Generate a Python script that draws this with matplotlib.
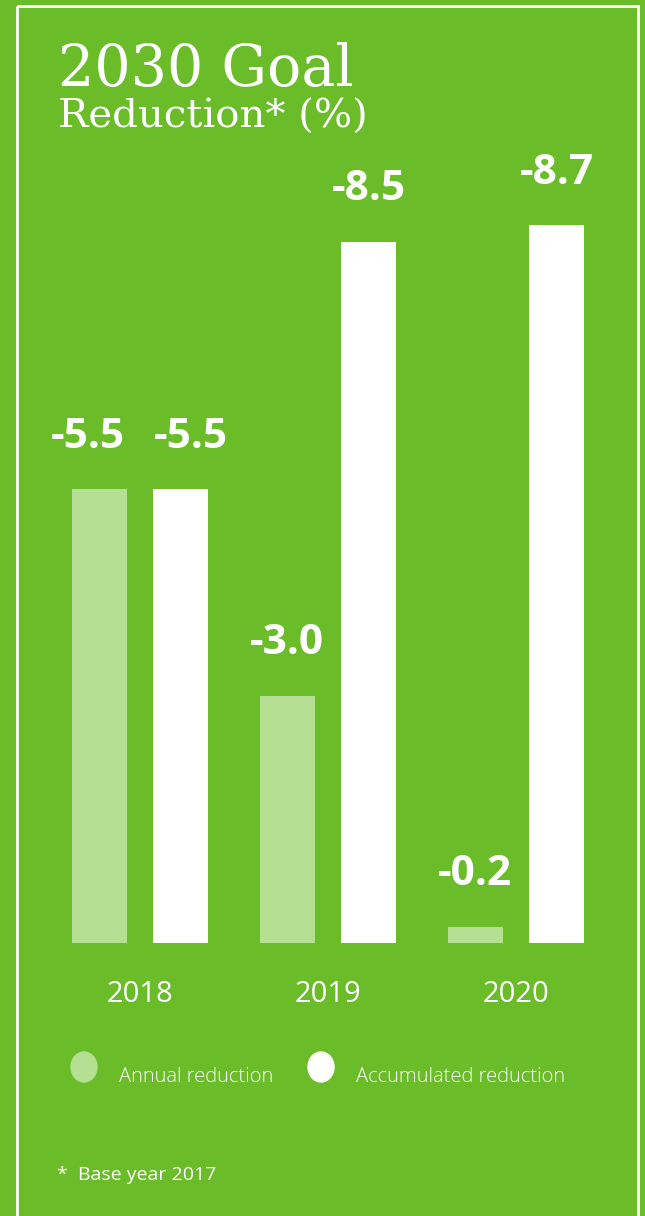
import matplotlib
matplotlib.use("Agg")
import matplotlib.pyplot as plt
from matplotlib.patches import Rectangle, Ellipse
import numpy as np

years = ["2018", "2019", "2020"]
annual = [-5.5, -3.0, -0.2]
accumulated = [-5.5, -8.5, -8.7]
series_names = ["Annual reduction", "Accumulated reduction"]

GREEN = "#6abd29"
LIGHT = "#b5df92"
WHITE = "#ffffff"

W, H = 645, 1216
fig = plt.figure(figsize=(W / 100, H / 100), dpi=100, facecolor=GREEN)

# overlay in pixel units for frame, titles and legend
deco = fig.add_axes([0, 0, 1, 1])
deco.set_xlim(0, W)
deco.set_ylim(H, 0)
deco.axis("off")
deco.patch.set_alpha(0)
deco.add_patch(Rectangle((17, 6), 621, 1260, fill=False, ec=WHITE, lw=2))

deco.text(58, 70, "2030 Goal", color=WHITE, fontsize=41, family="DejaVu Serif",
          va="center", ha="left")
deco.text(58, 117, "Reduction* (%)", color=WHITE, fontsize=29, family="DejaVu Serif",
          va="center", ha="left")

# bar area: baseline at y=943 px, 82.5 px per percentage point, 188 px between groups
base_px, top_px = 943, 150
unit = 82.5
ax = fig.add_axes([0, (H - base_px) / H, 1, (base_px - top_px) / H])
ax.set_facecolor("none")
ax.set_xlim(-140 / 188, (W - 140) / 188)
ax.set_ylim(0, (base_px - top_px) / unit)
ax.axis("off")

x = np.arange(len(years))
bw = 55 / 188
off = 40.75 / 188
vals_a = [abs(v) for v in annual]
vals_b = [abs(v) for v in accumulated]
ax.bar(x - off, vals_a, width=bw, color=LIGHT)
ax.bar(x + off, vals_b, width=bw, color=WHITE)

# the two 2018 labels sit at equal height, so nudge them apart
nudge_a = [-11, 0, 0]
nudge_b = [10, 0, 0]
for pos, vals, labs, nudge in [(x - off, vals_a, annual, nudge_a),
                               (x + off, vals_b, accumulated, nudge_b)]:
    for xi, v, lab, dx in zip(pos, vals, labs, nudge):
        ax.annotate(f"{lab:.1f}", (xi, v), xytext=(dx, 52), textcoords="offset pixels",
                    ha="center", va="center", color=WHITE, fontsize=30.5,
                    fontweight="bold", family="Open Sans")

for xi, yr in zip(x, years):
    ax.annotate(yr, (xi, 0), xytext=(0, -52), textcoords="offset pixels",
                ha="center", va="center", color=WHITE, fontsize=21, family="Open Sans")

# legend
for cx, tx, col, name in [(84, 119, LIGHT, series_names[0]), (321, 356, WHITE, series_names[1])]:
    deco.add_patch(Ellipse((cx, 1067), 26, 30, color=col))
    deco.text(tx, 1077, name, color=WHITE, fontsize=14.5, family="Open Sans",
              fontweight="light", va="center", ha="left")

deco.text(57, 1175, "*  Base year 2017", color=WHITE, fontsize=14, family="Open Sans",
          va="center", ha="left")

fig.savefig("out.png", dpi=100, facecolor=GREEN)
